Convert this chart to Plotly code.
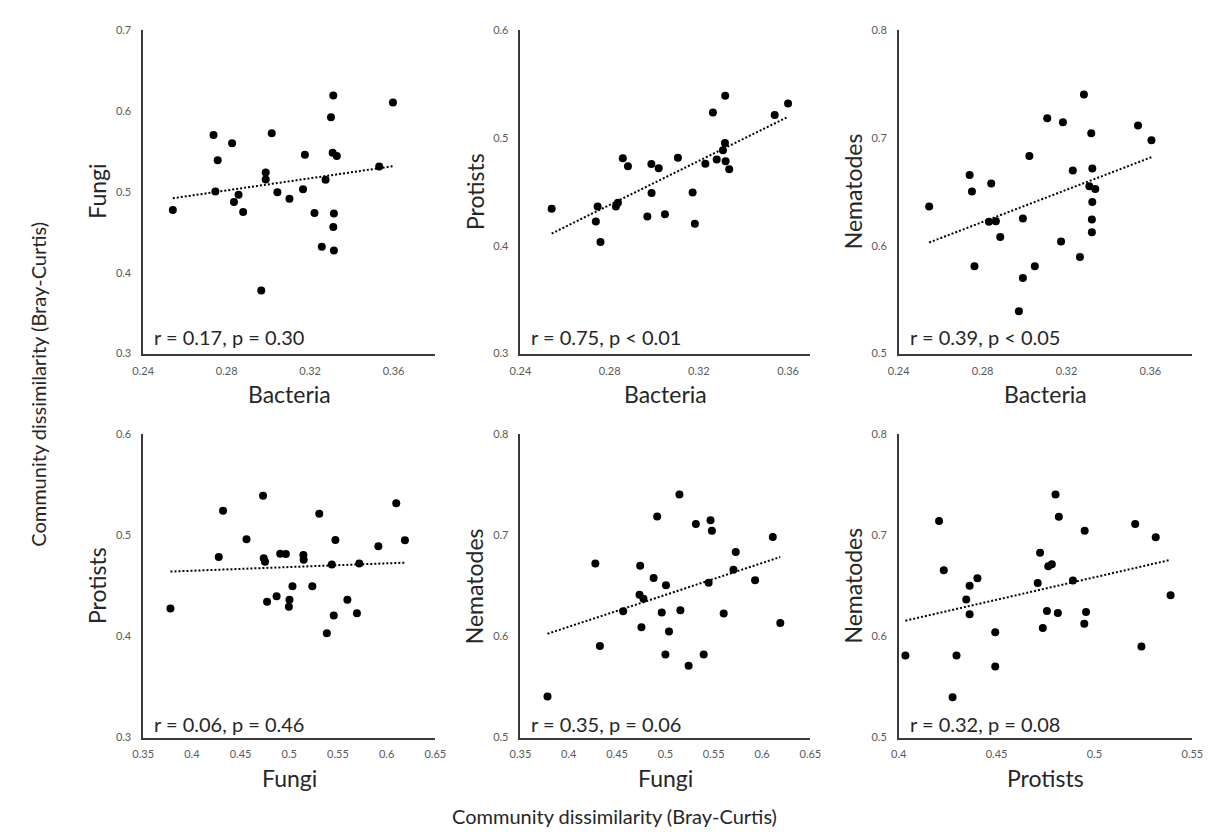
import numpy as np
import plotly.graph_objects as go

W, H = 1213, 832
FONT = "Lato"

# ---------------- data ----------------
p1_bacteria = [0.2542, 0.2737, 0.2757, 0.2746, 0.2826, 0.2835, 0.2857, 0.2879, 0.2966, 0.2987,
               0.2987, 0.3016, 0.3043, 0.3101, 0.3166, 0.3175, 0.3221, 0.3256, 0.3274, 0.3300,
               0.3311, 0.3308, 0.3328, 0.3314, 0.3311, 0.3314, 0.3531, 0.3597]
p1_fungi = [0.4775, 0.5700, 0.5388, 0.5002, 0.5599, 0.4872, 0.4961, 0.4750, 0.3780, 0.5238,
            0.5152, 0.5721, 0.4994, 0.4913, 0.5030, 0.5457, 0.4738, 0.4320, 0.5148, 0.5920,
            0.6188, 0.5481, 0.5441, 0.4730, 0.4563, 0.4275, 0.5311, 0.6103]

p2_bacteria = [0.2540, 0.2738, 0.2746, 0.2759, 0.2828, 0.2837, 0.2859, 0.2882, 0.2969, 0.2987,
               0.2988, 0.3020, 0.3048, 0.3106, 0.3172, 0.3182, 0.3229, 0.3263, 0.3280, 0.3308,
               0.3317, 0.3318, 0.3320, 0.3336, 0.3540, 0.3600]
p2_protists = [0.4343, 0.4225, 0.4362, 0.4033, 0.4362, 0.4398, 0.4809, 0.4736, 0.4271, 0.4757,
               0.4489, 0.4717, 0.4292, 0.4815, 0.4492, 0.4204, 0.4760, 0.5234, 0.4799, 0.4885,
               0.4951, 0.5389, 0.4781, 0.4708, 0.5210, 0.5316]

p3_bacteria = [0.2545, 0.2738, 0.2749, 0.2761, 0.2830, 0.2841, 0.2863, 0.2884, 0.2973, 0.2992,
               0.2992, 0.3023, 0.3049, 0.3108, 0.3174, 0.3183, 0.3230, 0.3264, 0.3283, 0.3309,
               0.3318, 0.3323, 0.3337, 0.3323, 0.3321, 0.3321, 0.3541, 0.3605]
p3_nematodes = [0.6364, 0.6654, 0.6502, 0.5810, 0.6221, 0.6575, 0.6227, 0.6081, 0.5393, 0.6252,
                0.5701, 0.6830, 0.5810, 0.7181, 0.6039, 0.7144, 0.6697, 0.5895, 0.7400, 0.6550,
                0.7041, 0.6715, 0.6526, 0.6404, 0.6243, 0.6124, 0.7114, 0.6977]

p4_fungi = [0.3780, 0.4276, 0.4320, 0.4561, 0.4731, 0.4738, 0.4751, 0.4772, 0.4870, 0.4907,
            0.4965, 0.5002, 0.4996, 0.5033, 0.5145, 0.5148, 0.5237, 0.5308, 0.5386, 0.5437,
            0.5457, 0.5474, 0.5597, 0.5695, 0.5719, 0.5915, 0.6099, 0.6188]
p4_protists = [0.4276, 0.4786, 0.5243, 0.4961, 0.5393, 0.4773, 0.4740, 0.4344, 0.4399, 0.4818,
               0.4815, 0.4364, 0.4295, 0.4497, 0.4805, 0.4760, 0.4497, 0.5214, 0.4032, 0.4711,
               0.4208, 0.4954, 0.4364, 0.4230, 0.4721, 0.4893, 0.5318, 0.4951]

p5_fungi = [0.3780, 0.4275, 0.4322, 0.4563, 0.4739, 0.4732, 0.4773, 0.4752, 0.4878, 0.4915,
            0.4962, 0.5006, 0.5000, 0.5037, 0.5145, 0.5155, 0.5240, 0.5315, 0.5396, 0.5447,
            0.5467, 0.5481, 0.5603, 0.5704, 0.5728, 0.5928, 0.6111, 0.6189]
p5_nematodes = [0.5405, 0.6722, 0.5906, 0.6249, 0.6699, 0.6414, 0.6372, 0.6091, 0.6579, 0.7188,
                0.6236, 0.6508, 0.5822, 0.6049, 0.7405, 0.6259, 0.5709, 0.7113, 0.5822, 0.6531,
                0.7149, 0.7045, 0.6227, 0.6660, 0.6835, 0.6557, 0.6984, 0.6133]

p6_protists = [0.4034, 0.4206, 0.4230, 0.4275, 0.4295, 0.4345, 0.4362, 0.4362, 0.4402, 0.4493,
               0.4493, 0.4710, 0.4722, 0.4736, 0.4757, 0.4764, 0.4782, 0.4801, 0.4813, 0.4818,
               0.4890, 0.4948, 0.4950, 0.4957, 0.5208, 0.5240, 0.5313, 0.5389]
p6_nematodes = [0.5812, 0.7142, 0.6654, 0.5398, 0.5812, 0.6366, 0.6502, 0.6220, 0.6576, 0.6042,
                0.5702, 0.6528, 0.6829, 0.6084, 0.6253, 0.6696, 0.6715, 0.7405, 0.6233, 0.7185,
                0.6554, 0.6126, 0.7045, 0.6243, 0.7113, 0.5900, 0.6981, 0.6408]

stat_labels = ["r = 0.17, p = 0.30", "r = 0.75, p < 0.01", "r = 0.39, p < 0.05",
               "r = 0.06, p = 0.46", "r = 0.35, p = 0.06", "r = 0.32, p = 0.08"]

bact_ticks = [0.24, 0.28, 0.32, 0.36]
fungi_ticks = [0.35, 0.4, 0.45, 0.5, 0.55, 0.6, 0.65]
prot_ticks = [0.4, 0.45, 0.5, 0.55]
y_ticks_fungi = [0.3, 0.4, 0.5, 0.6, 0.7]
y_ticks_prot = [0.3, 0.4, 0.5, 0.6]
y_ticks_nema = [0.5, 0.6, 0.7, 0.8]

panels = [
    dict(x=p1_bacteria, y=p1_fungi, xr=[0.24, 0.38], yr=[0.3, 0.7], xt=bact_ticks, yt=y_ticks_fungi,
         xl="Bacteria", yl="Fungi", row=0, col=0),
    dict(x=p2_bacteria, y=p2_protists, xr=[0.24, 0.37], yr=[0.3, 0.6], xt=bact_ticks, yt=y_ticks_prot,
         xl="Bacteria", yl="Protists", row=0, col=1),
    dict(x=p3_bacteria, y=p3_nematodes, xr=[0.24, 0.38], yr=[0.5, 0.8], xt=bact_ticks, yt=y_ticks_nema,
         xl="Bacteria", yl="Nematodes", row=0, col=2),
    dict(x=p4_fungi, y=p4_protists, xr=[0.35, 0.65], yr=[0.3, 0.6], xt=fungi_ticks, yt=y_ticks_prot,
         xl="Fungi", yl="Protists", row=1, col=0),
    dict(x=p5_fungi, y=p5_nematodes, xr=[0.35, 0.65], yr=[0.5, 0.8], xt=fungi_ticks, yt=y_ticks_nema,
         xl="Fungi", yl="Nematodes", row=1, col=1),
    dict(x=p6_protists, y=p6_nematodes, xr=[0.4, 0.55], yr=[0.5, 0.8], xt=prot_ticks, yt=y_ticks_nema,
         xl="Protists", yl="Nematodes", row=1, col=2),
]

# ---------------- layout geometry (pixels) ----------------
col_px = [(126.5, 424.0), (510.7, 806.0), (896.0, 1195.0)]
row_px = [(15.0, 344.0), (426.0, 734.0)]

def px(x):
    return x / W

def py(y):
    return 1 - y / H

AXIS_COLOR = "#3a3a3a"
TICK_COLOR = "#595959"
TEXT_COLOR = "#262626"

fig = go.Figure()
annotations = []
layout_axes = {}

for i, p in enumerate(panels):
    n = i + 1
    xa = "x" if n == 1 else f"x{n}"
    ya = "y" if n == 1 else f"y{n}"
    x0, x1 = col_px[p["col"]]
    y0, y1 = row_px[p["row"]]

    fig.add_trace(go.Scatter(
        x=p["x"], y=p["y"], mode="markers", xaxis=xa, yaxis=ya,
        marker=dict(color="black", size=8, line=dict(width=0)), showlegend=False,
        hoverinfo="skip"))

    # linear trendline (least squares from the data)
    xs = np.array(p["x"], dtype=float)
    ys = np.array(p["y"], dtype=float)
    k, b = np.polyfit(xs, ys, 1)
    lx = [xs.min(), xs.max()]
    ly = [k * v + b for v in lx]
    fig.add_trace(go.Scatter(
        x=lx, y=ly, mode="lines", xaxis=xa, yaxis=ya,
        line=dict(color="black", width=2, dash="2px,2px"), showlegend=False,
        hoverinfo="skip"))

    xkey = "xaxis" if n == 1 else f"xaxis{n}"
    ykey = "yaxis" if n == 1 else f"yaxis{n}"
    layout_axes[xkey] = dict(
        domain=[px(x0), px(x1)], range=p["xr"], anchor=ya,
        tickvals=p["xt"], ticktext=[f"{v:g}" for v in p["xt"]],
        showgrid=False, zeroline=False, showline=True, linecolor=AXIS_COLOR, linewidth=1.5,
        ticks="", ticklabelstandoff=6,
        tickfont=dict(family=FONT, size=11, color=TICK_COLOR), fixedrange=True)
    layout_axes[ykey] = dict(
        domain=[py(y1), py(y0)], range=p["yr"], anchor=xa,
        tickvals=p["yt"], ticktext=[f"{v:g}" for v in p["yt"]],
        showgrid=False, zeroline=False, showline=True, linecolor=AXIS_COLOR, linewidth=1.5,
        ticks="", ticklabelstandoff=8,
        tickfont=dict(family=FONT, size=11, color=TICK_COLOR), fixedrange=True)

    # statistics label
    annotations.append(dict(
        text=stat_labels[i], xref="paper", yref="paper",
        x=px(x0 + 9), y=py(y1 - (17 if p["row"] == 0 else 14)), xanchor="left", yanchor="middle",
        showarrow=False, font=dict(family=FONT, size=20, color=TEXT_COLOR)))
    # x axis title
    annotations.append(dict(
        text=p["xl"], xref="paper", yref="paper", x=px((x0 + x1) / 2), y=py(y1 + 41),
        xanchor="center", yanchor="middle", showarrow=False,
        font=dict(family=FONT, size=23, color=TEXT_COLOR)))
    # y axis title
    annotations.append(dict(
        text=p["yl"], xref="paper", yref="paper", x=px(x0 - 47), y=py((y0 + y1) / 2),
        xanchor="center", yanchor="middle", textangle=-90, showarrow=False,
        font=dict(family=FONT, size=23, color=TEXT_COLOR)))

# global titles
annotations.append(dict(
    text="Community dissimilarity (Bray-Curtis)", xref="paper", yref="paper",
    x=px(606), y=py(814), xanchor="center", yanchor="middle", showarrow=False,
    font=dict(family=FONT, size=20, color=TEXT_COLOR)))
annotations.append(dict(
    text="Community dissimilarity (Bray-Curtis)", xref="paper", yref="paper",
    x=px(20), y=py(375), xanchor="center", yanchor="middle", textangle=-90, showarrow=False,
    font=dict(family=FONT, size=20, color=TEXT_COLOR)))

fig.update_layout(
    width=W, height=H, margin=dict(l=0, r=0, t=0, b=0),
    paper_bgcolor="white", plot_bgcolor="white",
    font=dict(family=FONT, color=TEXT_COLOR),
    annotations=annotations, showlegend=False, **layout_axes)

fig.write_html("out.html", config={"displayModeBar": False})
